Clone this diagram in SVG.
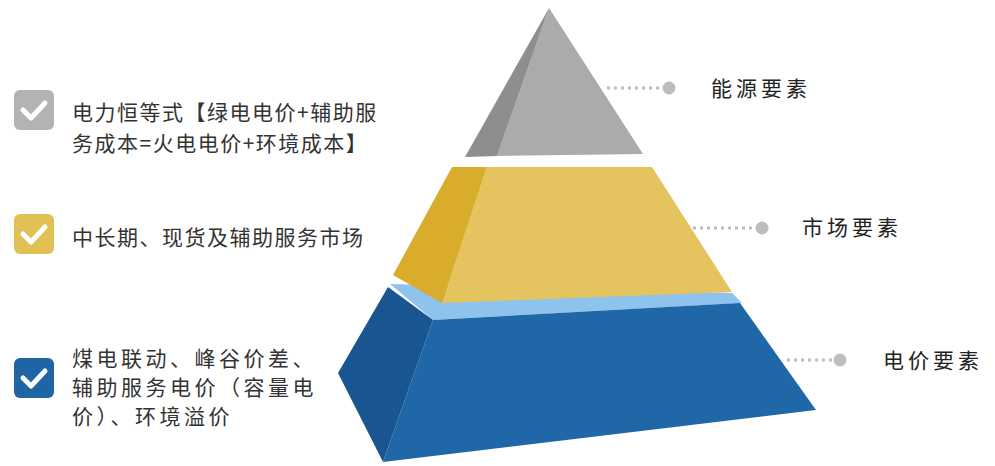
<svg xmlns="http://www.w3.org/2000/svg" width="995" height="466" viewBox="0 0 995 466">
<defs>
<style>
.t{font-family:"Noto Sans CJK SC","Noto Sans",sans-serif;font-size:21px;fill:#333;letter-spacing:1.5px;}
.lab{font-family:"Noto Sans CJK SC","Noto Sans",sans-serif;font-size:21px;fill:#222;letter-spacing:4px;}
.dots{stroke:#bdbdbd;stroke-width:3;stroke-dasharray:3 4;fill:none;}
.dot{fill:#bdbdbd;}
.chk{fill:none;stroke:#fff;stroke-width:5;stroke-linecap:round;stroke-linejoin:round;}
</style>
</defs>
<rect width="995" height="466" fill="#fff"/>
<g id="pyramid-top">
<polygon points="549,8 643,154 497,156" fill="#ababab"/>
<polygon points="549,8 497,156 465,157" fill="#8e8e8e"/>
</g>
<g id="pyramid-bottom">
<polygon points="390,284 732,293 742,303 433,320" fill="#8dc3ec"/>
<polygon points="433,320 740,303 816,410 383,462" fill="#1f67a7"/>
<polygon points="388,287 433,320 383,462 338,373" fill="#195591"/>
</g>
<g id="pyramid-middle">
<polygon points="487,167 652,167 732,292 442,303" fill="#e5c45f"/>
<polygon points="452,167 487,167 442,303 393,275" fill="#d9ac2b"/>
</g>
<g id="connectors">
<line class="dots" x1="607" y1="88" x2="664" y2="88"/>
<circle class="dot" cx="669" cy="88" r="6.5"/>
<line class="dots" x1="693" y1="228" x2="757" y2="228"/>
<circle class="dot" cx="762" cy="228" r="6.5"/>
<line class="dots" x1="787" y1="360" x2="835" y2="360"/>
<circle class="dot" cx="840" cy="360" r="6.5"/>
</g>
<g id="label-energy"><text class="lab" x="711" y="96">能源要素</text></g>
<g id="label-market"><text class="lab" x="802" y="235">市场要素</text></g>
<g id="label-price"><text class="lab" x="883" y="368">电价要素</text></g>
<g id="item-1">
<rect x="14" y="90" width="40" height="40" rx="6" fill="#b3b3b3"/>
<polyline class="chk" points="23,110 31,118 45,103"/>
<text class="t" x="72" y="120">电力恒等式【绿电电价+辅助服</text>
<text class="t" x="72" y="151">务成本=火电电价+环境成本】</text>
</g>
<g id="item-2">
<rect x="14" y="214" width="40" height="40" rx="6" fill="#e1c153"/>
<polyline class="chk" points="23,234 31,242 45,227"/>
<text class="t" x="72" y="245">中长期、现货及辅助服务市场</text>
</g>
<g id="item-3">
<rect x="14" y="358" width="40" height="40" rx="6" fill="#1f64a4"/>
<polyline class="chk" points="23,378 31,386 45,371"/>
<text class="t" x="72" y="366" style="letter-spacing:3.5px">煤电联动、峰谷价差、</text>
<text class="t" x="72" y="395" style="letter-spacing:3.5px">辅助服务电价（容量电</text>
<text class="t" x="72" y="424" style="letter-spacing:3.5px">价）、环境溢价</text>
</g>
</svg>
